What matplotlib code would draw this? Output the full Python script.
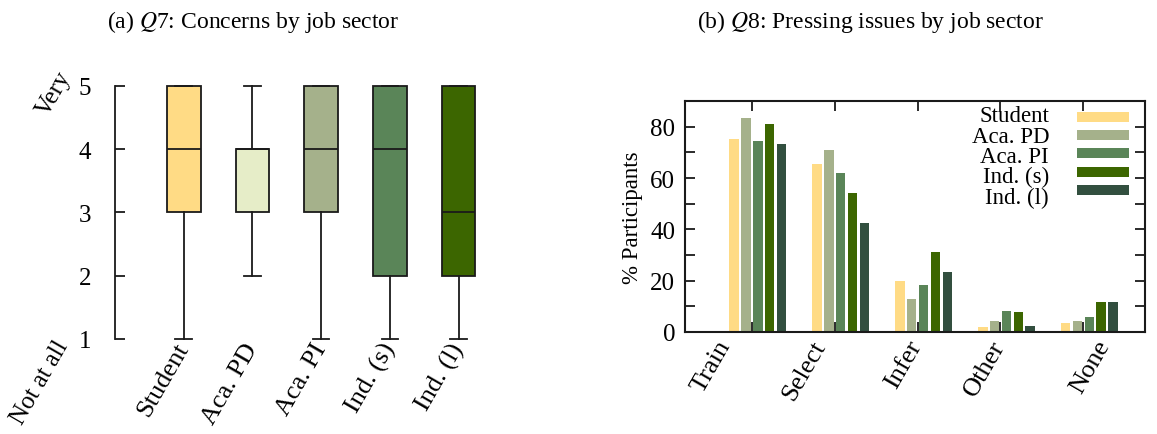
import numpy as np
import matplotlib
matplotlib.use('Agg')
import matplotlib.pyplot as plt
import matplotlib.transforms as mtransforms
from matplotlib.patches import Rectangle

plt.rcParams['font.family'] = ['Liberation Serif', 'DejaVu Serif']
plt.rcParams['mathtext.fontset'] = 'stix'

# ── (a) Q7 box plot data ────────────────────────────────────────────────
sectors = ['Student', 'Aca. PD', 'Aca. PI', 'Ind. (s)', 'Ind. (l)']
q7_whislo = [1, 2, 1, 1, 1]
q7_q1 = [3, 3, 3, 2, 2]
q7_med = [4, 4, 4, 4, 3]
q7_q3 = [5, 4, 5, 5, 5]
q7_whishi = [5, 5, 5, 5, 5]
box_colours = ['#FFDB85', '#E6EDC8', '#A5B18B', '#5A8558', '#3C6600']

# ── (b) Q8 grouped bar data ─────────────────────────────────────────────
issues = ['Train', 'Select', 'Infer', 'Other', 'None']
q8_student = [75.4, 65.4, 20.0, 1.8, 3.4]
q8_aca_pd = [83.6, 71.0, 12.7, 4.3, 4.3]
q8_aca_pi = [74.5, 61.9, 18.1, 8.1, 5.9]
q8_ind_s = [81.1, 54.1, 31.0, 7.8, 11.7]
q8_ind_l = [73.2, 42.4, 23.4, 2.1, 11.7]
bar_colours = ['#FFDB85', '#A5B18B', '#5A8558', '#3C6600', '#324F3F']

# per-label nudges (px) for the rotated category labels in panel (b)
label_dx = [-26, -14, -1, -1, 21]

W, H = 1157, 435
fig = plt.figure(figsize=(W / 100, H / 100), dpi=100)
fig.patch.set_facecolor('white')
INK = '#1A1A1A'

# ── Panel (a) ───────────────────────────────────────────────────────────
ax1 = fig.add_axes([115 / W, 1 - 340 / H, 378 / W, 253.3 / H])
stats = []
for i, name in enumerate(sectors):
    stats.append(dict(label=name, whislo=q7_whislo[i], q1=q7_q1[i],
                      med=q7_med[i], q3=q7_q3[i], whishi=q7_whishi[i]))
pos = np.arange(1, len(sectors) + 1)
bp = ax1.bxp(stats, positions=pos, widths=0.49, patch_artist=True,
             showfliers=False,
             boxprops=dict(linewidth=1.3, edgecolor=INK),
             medianprops=dict(color=INK, linewidth=1.3),
             whiskerprops=dict(color=INK, linewidth=1.3),
             capprops=dict(color=INK, linewidth=1.3), capwidths=0.24)
for patch, c in zip(bp['boxes'], box_colours):
    patch.set_facecolor(c)
for art in bp['boxes'] + bp['medians'] + bp['whiskers'] + bp['caps']:
    art.set_clip_on(False)

ax1.set_xlim(0, 5.5)
ax1.set_ylim(1, 5)
ax1.set_yticks([1, 2, 3, 4, 5])
for s in ['top', 'right', 'bottom']:
    ax1.spines[s].set_visible(False)
ax1.spines['left'].set_linewidth(1.3)
ax1.spines['left'].set_color(INK)
ax1.tick_params(axis='y', direction='in', length=7, width=1.3, color=INK,
                labelsize=18, pad=17)
ax1.tick_params(axis='x', length=0, labelsize=19, pad=4)
ax1.set_xticks(pos)
ax1.set_xticklabels(sectors, rotation=60, ha='right', va='center',
                    rotation_mode='anchor')
ax1.text(-0.88, 4.88, 'Very', rotation=60, ha='center', va='center',
         fontsize=18)
ax1.text(-1.09, 0.32, 'Not at all', rotation=60, ha='center', va='center',
         fontsize=18)

# ── Panel (b) ───────────────────────────────────────────────────────────
ax2 = fig.add_axes([685 / W, 1 - 332.7 / H, 460 / W, 230.4 / H])
x = np.arange(len(issues))
series = [q8_student, q8_aca_pd, q8_aca_pi, q8_ind_s, q8_ind_l]
bw = 0.115
step = 0.143
for k, (vals, c) in enumerate(zip(series, bar_colours)):
    ax2.bar(x - 0.213 + k * step, vals, bw, color=c, zorder=2)

ax2.set_xlim(-0.805, 4.744)
ax2.set_ylim(0, 90)
ax2.set_yticks(np.arange(0, 81, 10))
ax2.set_yticklabels([str(v) if v % 20 == 0 else '' for v in range(0, 81, 10)])
ax2.set_xticks(x)
ax2.set_xticklabels([])
ax2.tick_params(axis='both', direction='in', length=7, width=1.3, color=INK,
                top=True, right=True)
ax2.tick_params(axis='y', labelsize=18, pad=7)
for s in ax2.spines.values():
    s.set_linewidth(1.5)
    s.set_color(INK)
ax2.set_ylabel('% Participants', fontsize=16.5)
ax2.yaxis.set_label_coords((643 - 685) / 460, 0.5)

# category labels, rotated, placed under each tick with a small nudge
base = mtransforms.blended_transform_factory(ax2.transData, ax2.transAxes)
for xi, name, dx in zip(x, issues, label_dx):
    tr = base + mtransforms.ScaledTranslation(dx / 100, -10 / 100,
                                              fig.dpi_scale_trans)
    ax2.text(xi, 0, name, transform=tr, rotation=60, ha='right', va='center',
             rotation_mode='anchor', fontsize=19)

# legend: labels right-aligned, swatches on the right
for k, (n, c) in enumerate(zip(sectors, bar_colours)):
    text_base = 122.3 + 20.4 * k
    sw_mid = 118 + 18.2 * k
    fig.text(1049 / W, 1 - text_base / H, n, ha='right', va='baseline',
             fontsize=16.5)
    fig.patches.append(Rectangle((1077 / W, 1 - (sw_mid + 5) / H), 52 / W,
                                 10 / H, transform=fig.transFigure,
                                 facecolor=c, edgecolor='none'))

# ── titles ──────────────────────────────────────────────────────────────
fig.text(107 / W, 1 - 22 / H, '(a) $Q$7: Concerns by job sector',
         ha='left', va='center', fontsize=17)
fig.text(697 / W, 1 - 22 / H, '(b) $Q$8: Pressing issues by job sector',
         ha='left', va='center', fontsize=17)

plt.savefig('out.png', dpi=100)
plt.close()
